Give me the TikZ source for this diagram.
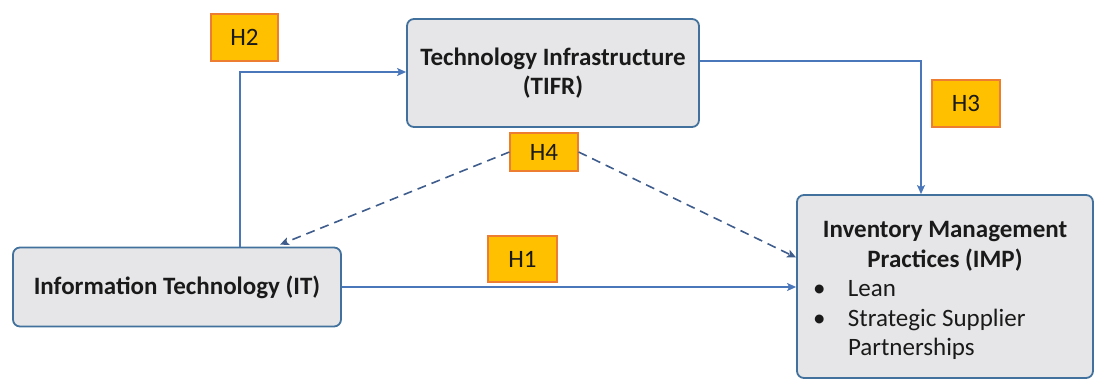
\documentclass[tikz,border=0pt]{standalone}
\usepackage{fontspec}
\setmainfont{Carlito}
\usetikzlibrary{arrows.meta}
\definecolor{boxborder}{HTML}{41719C}
\definecolor{boxfill}{HTML}{E6E6E8}
\definecolor{conn}{HTML}{4A76BA}
\definecolor{dashc}{HTML}{3F5D8C}
\definecolor{hfill}{HTML}{FFC000}
\definecolor{hborder}{HTML}{ED7D31}
\definecolor{txt}{HTML}{1A1A1A}
\tikzset{
  varbox/.style={draw=boxborder, fill=boxfill, line width=1.8pt, rounded corners=7pt, inner sep=0pt, font=\fontsize{25}{29.5}\selectfont\bfseries, align=center, text=txt},
  hbox/.style={draw=hborder, fill=hfill, line width=1.2pt, inner sep=0pt, font=\fontsize{25}{27}\selectfont, text=txt},
  link/.style={draw=conn, line width=1.4pt, -{Stealth[length=9pt,width=8pt,inset=2pt]}},
  dlink/.style={draw=dashc, line width=1.6pt, dash pattern=on 9pt off 6pt, -{Stealth[length=9pt,width=8pt,inset=2pt]}},
}
\begin{document}
\begin{tikzpicture}[x=1pt,y=-1pt]
\useasboundingbox (0,0) rectangle (1095,380);
\node[varbox, minimum width=292pt, minimum height=108pt] (TIFR) at (553,73) {Technology Infrastructure\\(TIFR)};
\node[varbox, minimum width=328pt, minimum height=79pt] (IT) at (177,287) {Information Technology (IT)};
\node[varbox, minimum width=296pt, minimum height=183pt] (IMP) at (945,286.5) {};
\node[font=\fontsize{25}{29.5}\selectfont, align=center, inner sep=0pt, text=txt] (IMPtext) at (IMP.center) [yshift=-4pt] {%
  \textbf{Inventory Management}\\
  \textbf{Practices (IMP)}\\
  \makebox[264pt][l]{\makebox[35pt][l]{\textbullet}Lean}\\
  \makebox[264pt][l]{\makebox[35pt][l]{\textbullet}Strategic Supplier}\\
  \makebox[264pt][l]{\hspace*{35pt}Partnerships}};
\node[hbox, minimum width=67pt, minimum height=47pt] (H2) at (244.5,37.5) {H2};
\node[hbox, minimum width=68pt, minimum height=47pt] (H3) at (966,103.5) {H3};
\node[hbox, minimum width=68pt, minimum height=38pt] (H4) at (544,152) {H4};
\node[hbox, minimum width=69pt, minimum height=46pt] (H1) at (522.5,259) {H1};
\coordinate (h2x) at (240,0);
\coordinate (h3x) at (921,0);
\coordinate (h4l) at (280,0);
% H1
\draw[link] (IT.east) -- (IT.east -| IMP.west);
% H2
\draw[link] (IT.north -| h2x) |- ([yshift=1pt]TIFR.west);
% H3
\draw[link] ([yshift=12pt]TIFR.east) -| (IMP.north -| h3x);
% H4
\draw[dlink] (H4.west) -- ([yshift=2pt]IT.north -| h4l);
\draw[dlink] (H4.east) -- ([yshift=29pt]IMP.west);
\end{tikzpicture}
\end{document}
